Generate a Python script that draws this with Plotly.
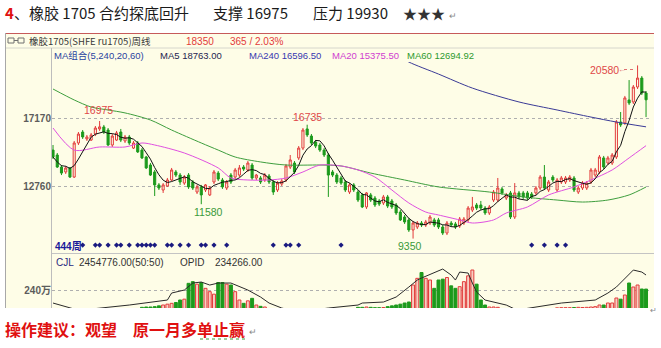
import plotly.graph_objects as go
import pandas as pd

# ---------------- data (weekly bars) ----------------
weeks = list(range(141))
open_ = [15090,14770,13990,13670,13930,13340,15550,16260,15810,15740,16130,16460,16590,16390,15420,15740,16260,15680,15940,15220,
         15550,15090,14640,14120,13670,12830,12500,12760,13150,13670,13470,12950,13470,13020,12370,12700,12500,12180,13020,13600,
         13150,12630,13470,13340,13470,13990,13800,14120,13280,13280,13150,13410,13020,12500,12890,13150,13990,14250,14580,15220,
         16460,16000,15610,15420,15090,14770,13670,13470,13280,13020,12370,12830,12370,12180,11400,12180,11980,11790,11660,12050,
         11790,11530,11070,10750,10560,9910,10100,10360,10230,10360,10560,10560,10100,9710,10360,10300,10170,10360,10560,11200,
         11530,11530,11330,11010,11850,11850,12570,11980,12310,10750,12310,12310,12310,12240,12310,12630,13340,12500,13340,12500,
         13020,13020,13150,13280,12370,12630,12630,13020,13470,13670,14580,14250,14250,14640,16910,16850,18340,18210,19180,19760,18790]
high_ = [15420,14900,14120,14060,13990,15680,16260,16390,16070,16200,16650,16975,16720,16520,16130,16330,16460,16070,16070,15680,
         15680,15220,14710,14250,13800,12950,12950,13280,13930,13800,13600,13470,13600,13150,12830,12830,12890,12760,13800,13730,
         13280,13150,13600,13930,14120,14120,14380,14250,13540,13410,13600,13540,13150,13080,13210,14190,14770,14380,15350,16520,
         16735,16130,15740,15550,15220,14900,13800,13600,13410,13150,12950,12950,12500,12310,12370,12310,12110,11920,12180,12180,
         11920,11660,11200,10880,10690,10490,10490,10490,10560,10880,10690,10690,10230,10490,10490,10430,10750,10750,11460,12050,
         11660,11790,11460,11530,12500,13280,12700,12310,12440,12950,12440,12440,12440,12370,12760,13470,14120,13150,13470,13280,
         13410,13410,13470,13410,12760,13080,13080,13930,13930,14770,14710,14710,14900,17040,17560,18600,19630,19310,20580,19890,18920]
low_ = [14510,13930,13470,13540,13280,13280,15420,15810,15680,15680,16000,16330,16130,15350,15290,15680,15610,15550,15420,15160,
        14900,14510,13860,13410,12110,12500,12310,12700,13080,13340,12830,12830,12570,12500,12240,11580,12370,12110,12890,13080,
        12570,12500,12890,13210,13340,13730,13670,13150,13150,12890,13020,12890,12180,12370,12760,13020,13860,13540,14450,15090,
        15940,15420,15220,14970,14640,12050,13340,12890,12830,12370,12240,12370,11720,11330,11270,11720,11400,11460,11530,11330,
        11270,10880,10490,10300,9780,9350,9970,10100,10100,10230,10100,9970,9580,9580,10100,9970,10040,10230,10430,11070,
        11200,11200,10880,10880,11720,11720,12180,11850,10620,10620,11920,11920,11850,11920,12180,12500,12500,12370,13020,12370,
        12890,12890,13020,12370,12240,12500,12500,12890,13340,13540,13860,14120,14120,14510,16590,16720,18010,18080,19050,18660,17230]
close_ = [14640,13990,13600,13930,13340,15550,16130,15940,15940,16070,16520,16590,16260,15420,16000,16200,15740,15940,15550,15550,
          14970,14580,13930,13470,12830,12630,12830,13150,13800,13470,13020,13340,12700,12630,12700,12180,12830,12630,13670,13210,
          12700,13020,13020,13800,13930,13860,14250,13280,13470,13020,13470,13020,12370,12950,13080,14060,14450,13670,15220,16390,
          16070,15550,15350,15090,14770,13470,13470,13020,12950,12500,12830,12500,11850,11400,12310,11850,11530,11590,12050,11460,
          11400,11010,10560,10430,9910,10360,10360,10230,10430,10750,10230,10100,9710,10360,10230,10100,10620,10620,11330,11400,
          11330,11330,11010,11400,12370,12630,12310,12180,10750,12310,12050,12050,11980,12050,12630,13340,12630,13020,13150,13150,
          13280,13280,13340,12500,12630,12950,12950,13800,13800,14640,13990,14580,14770,16910,16720,18470,18140,19180,19760,18790,18350]

# moving-average lines (week, value)
ma20_weeks = [0,5,11,17,21,24,31,39,42,46,51,55,59,63,68,72,76,80,84,88,91,96,99,104,107,112,117,123,127,132,136,140]
ma20_vals = [16520,15090,15290,15290,15550,15420,14900,13930,13280,13150,13150,13280,13670,14120,14060,13800,13340,12500,
             11660,11070,10880,10560,10360,10560,11010,11400,12180,12700,13150,13800,14580,15375.5]
ma60_weeks = [0,5,9,13,17,23,28,35,39,43,49,55,63,68,75,83,91,103,111,119,125,131,136,140]
ma60_vals = [19050,18340,17880,17690,17500,17040,16390,15550,15090,14640,14320,14120,14120,14060,13600,13150,12700,12370,
             12050,11850,11720,11850,12180,12694.92]
ma240_weeks = [81,84,91,99,110,119,127,133,140]
ma240_vals = [21300,20800,20020,19110,18210,17690,17230,16910,16596.5]

# volume (万手) and open interest
vol_weeks = list(range(21, 51)) + list(range(72, 106)) + list(range(119, 141))
vol_vals = [136,138,138,140,145,150,155,160,165,180,185,280,290,275,285,250,230,215,285,285,275,270,230,180,160,175,190,150,142,138,
            136,136,138,136,134,134,135,140,145,150,155,162,168,270,310,345,310,300,250,300,305,315,265,250,260,290,325,360,275,180,150,138,138,136,
            133,134,134,134,135,136,135,136,138,140,150,150,162,162,192,185,210,282,258,270,246,245.5]
opid_weeks = [0,5,9,18,27,28,31,33,35,37,39,42,46,49,51,54,58,65,72,73,78,81,84,86,87,90,92,94,95,96,98,99,100,102,105,
              107,109,110,111,116,120,128,131,133,135,137,139,140]
opid_vals = [66000,30000,30000,54000,84000,126000,144000,186000,192000,174000,186000,186000,144000,102000,66000,36000,12000,
             36000,54000,66000,72000,102000,162000,204000,216000,246000,270000,234000,204000,252000,246000,186000,132000,84000,
             66000,54000,30000,12000,30000,48000,66000,84000,126000,162000,216000,264000,252000,234266]

signal_weeks = [7,10,11,13,15,16,18,20,21,22,23,24,27,28,30,32,35,36,38,41,52,55,56,58,68,113,116,119,121]
price_ticks = [12760, 17170]
price_tick_text = ["12760", "17170"]
vol_ticks = [240]
vol_tick_text = ["240万"]

# ---------------- style ----------------
W, H = 661, 348
CREAM = "#FEFDE7"
RED = "#E23B3B"
GREEN = "#1C9A1C"
SIGNAL_LEVEL = 8930

def px(x):
    return x / W

def py(y):
    return 1 - y / H

ma5 = pd.Series(close_).rolling(5, min_periods=1).mean()

fig = go.Figure()

fig.add_trace(go.Scatter(x=ma60_weeks, y=ma60_vals, mode="lines", line=dict(color="#3E9E3E", width=1, shape="spline", smoothing=0.8),
                         hoverinfo="skip"))
fig.add_trace(go.Scatter(x=ma240_weeks, y=ma240_vals, mode="lines", line=dict(color="#3A3A96", width=1, shape="spline", smoothing=0.8),
                         hoverinfo="skip"))
fig.add_trace(go.Scatter(x=ma20_weeks, y=ma20_vals, mode="lines", line=dict(color="#E050E0", width=1, shape="spline", smoothing=0.8),
                         hoverinfo="skip"))
fig.add_trace(go.Candlestick(x=weeks, open=open_, high=high_, low=low_, close=close_,
                             increasing=dict(line=dict(color=RED, width=1), fillcolor=CREAM),
                             decreasing=dict(line=dict(color=GREEN, width=1), fillcolor=GREEN),
                             whiskerwidth=0, hoverinfo="skip"))
fig.add_trace(go.Scatter(x=weeks, y=ma5, mode="lines", line=dict(color="#111111", width=1), hoverinfo="skip"))
fig.add_trace(go.Scatter(x=signal_weeks, y=[SIGNAL_LEVEL] * len(signal_weeks), mode="markers",
                         marker=dict(symbol="diamond", size=4, color="#1A1A80"), hoverinfo="skip"))

up = {w: c >= o for w, o, c in zip(weeks, open_, close_)}
fig.add_trace(go.Bar(x=vol_weeks, y=vol_vals, width=0.7, xaxis="x2", yaxis="y2",
                     marker=dict(color=["#F7CFC2" if up[w] else GREEN for w in vol_weeks],
                                 line=dict(color=[RED if up[w] else GREEN for w in vol_weeks], width=1)),
                     hoverinfo="skip"))
fig.add_trace(go.Scatter(x=opid_weeks, y=opid_vals, mode="lines", xaxis="x2", yaxis="y3",
                         line=dict(color="#2A2A2A", width=1), hoverinfo="skip"))

XR = [-0.24, 141.17]
XD = [px(52), px(651)]
fig.update_layout(
    width=W, height=H, margin=dict(l=0, r=0, t=0, b=0), showlegend=False,
    paper_bgcolor="white", plot_bgcolor=CREAM,
    xaxis=dict(domain=XD, range=XR, visible=False, rangeslider=dict(visible=False), anchor="y"),
    xaxis2=dict(domain=XD, range=XR, visible=False, matches="x", anchor="y2"),
    yaxis=dict(domain=[py(253), py(62)], range=[8415.25, 20801.6], tickvals=price_ticks, ticktext=price_tick_text,
               showgrid=True, gridcolor="#AFAFAF", griddash="dot", gridwidth=1, zeroline=False, showline=False,
               ticks="", tickfont=dict(family="Liberation Sans", size=10, color="#5C5C5C", weight="bold"), anchor="x"),
    yaxis2=dict(domain=[py(308), py(253)], range=[132, 462], tickvals=vol_ticks, ticktext=vol_tick_text,
                showgrid=True, gridcolor="#AFAFAF", griddash="dot", zeroline=False, showline=False, ticks="",
                tickfont=dict(family="Liberation Sans, Noto Sans CJK SC", size=10, color="#5C5C5C", weight="bold"), anchor="x2"),
    yaxis3=dict(overlaying="y2", range=[36266, 366266], visible=False, anchor="x2"),
)

shapes = [
    dict(type="rect", xref="paper", yref="paper", x0=px(5), x1=px(654), y0=py(308), y1=py(33),
         fillcolor=CREAM, line=dict(width=0), layer="below"),
    dict(type="line", xref="paper", yref="paper", x0=px(5), x1=px(654), y0=py(33.5), y1=py(33.5), line=dict(color="#C65A5A", width=1)),
    dict(type="line", xref="paper", yref="paper", x0=px(5), x1=px(654), y0=py(48), y1=py(48), line=dict(color="#D6D6CC", width=1)),
    dict(type="line", xref="paper", yref="paper", x0=px(5.5), x1=px(5.5), y0=py(308), y1=py(33), line=dict(color="#A8A8A8", width=1)),
    dict(type="line", xref="paper", yref="paper", x0=px(51.5), x1=px(51.5), y0=py(308), y1=py(48), line=dict(color="#BDBDBD", width=1)),
    dict(type="line", xref="paper", yref="paper", x0=px(52), x1=px(654), y0=py(253.5), y1=py(253.5), line=dict(color="#C4C4C4", width=1)),
    # link icon
    dict(type="rect", xref="paper", yref="paper", x0=px(8), x1=px(14), y0=py(43), y1=py(38), line=dict(color="#707070", width=1)),
    dict(type="rect", xref="paper", yref="paper", x0=px(18), x1=px(24), y0=py(43), y1=py(38), line=dict(color="#707070", width=1)),
    dict(type="line", xref="paper", yref="paper", x0=px(14), x1=px(18), y0=py(40.5), y1=py(40.5), line=dict(color="#707070", width=1)),
    # dotted pointer to the 20580 high
    dict(type="line", xref="paper", yref="paper", x0=px(624), x1=px(636), y0=py(69.5), y1=py(69.5),
         line=dict(color="#E07070", width=1, dash="dot")),
    # proofing squiggle
    dict(type="line", xref="paper", yref="paper", x0=px(200), x1=px(246), y0=py(339), y1=py(339),
         line=dict(color="#3C9A3C", width=1, dash="dot")),
]

def T(x, y, text, size, color, family="Liberation Sans, Noto Sans CJK SC", anchor="left", bold=False):
    return dict(x=px(x), y=py(y), xref="paper", yref="paper", text=text, showarrow=False,
                xanchor=anchor, yanchor="middle",
                font=dict(family=family, size=size, color=color, weight="bold" if bold else "normal"))

CJK = "Noto Sans CJK SC"
ann = [
    T(3, 13, "4", 15, "#E01010", family=CJK, bold=True),
    T(12, 13, "、橡胶 1705 合约探底回升", 15, "#1A1A1A", family=CJK),
    T(211, 13, "支撑 16975", 15, "#1A1A1A", family=CJK),
    T(311, 13, "压力 19930", 15, "#1A1A1A", family=CJK),
    T(401, 13, "★★★", 14, "#333333", family=CJK),
    T(447, 15, "↵", 9, "#888888", family=CJK),
    T(27, 41, "橡胶1705(SHFE ru1705)周线", 9.5, "#3A3A3A", family=CJK),
    T(184, 41, "18350", 10, RED),
    T(228, 41, "365 / 2.03%", 10, RED),
    T(52, 55.5, "MA组合(5,240,20,60)", 9.5, "#2B44A0"),
    T(158, 55.5, "MA5 18763.00", 9.5, "#1E1E50"),
    T(247, 55.5, "MA240 16596.50", 9.5, "#3838B0"),
    T(330, 55.5, "MA20 15375.50", 9.5, "#D040D0"),
    T(405, 55.5, "MA60 12694.92", 9.5, "#2E9A2E"),
    T(54, 262.5, "CJL", 10, "#2A2A80"),
    T(77, 262.5, "2454776.00(50:50)", 10, "#333333"),
    T(178, 262.5, "OPID", 10, "#333333"),
    T(213, 262.5, "234266.00", 10, "#333333"),
    T(53, 246, "444周", 10, "#1A1A9A", bold=True),
    T(3, 329, "操作建议：观望", 16, "#E01010", family=CJK, bold=True),
    T(131, 329, "原一月多单止赢", 16, "#E01010", family=CJK, bold=True),
    T(247, 331, "↵", 9, "#888888", family=CJK),
    T(648, 309, "↵", 8, "#888888", family=CJK),
    T(604, 70, "20580", 10.5, "#E04848", anchor="center"),
    T(622, 69.5, "←", 8, "#E07070", anchor="center"),
]

def mark(week, value, text, color, dx, dy, size=10.5):
    return dict(x=week, y=value, xref="x", yref="y", text=text, showarrow=False, xshift=dx, yshift=dy,
                font=dict(family="Liberation Sans", size=size, color=color))

ann += [
    mark(11, 16975, "16975", "#E04848", -1.5, 11),
    mark(11, 16975, "↓", "#E04848", 0, -3, size=7),
    mark(60, 16735, "16735", "#E04848", 0, 8),
    mark(35, 11580, "11580", "#3A9A3A", 7, -8),
    mark(85, 9350, "9350", "#3A9A3A", -3, -7),
]

fig.update_layout(shapes=shapes, annotations=ann)
fig.write_html("out.html")
